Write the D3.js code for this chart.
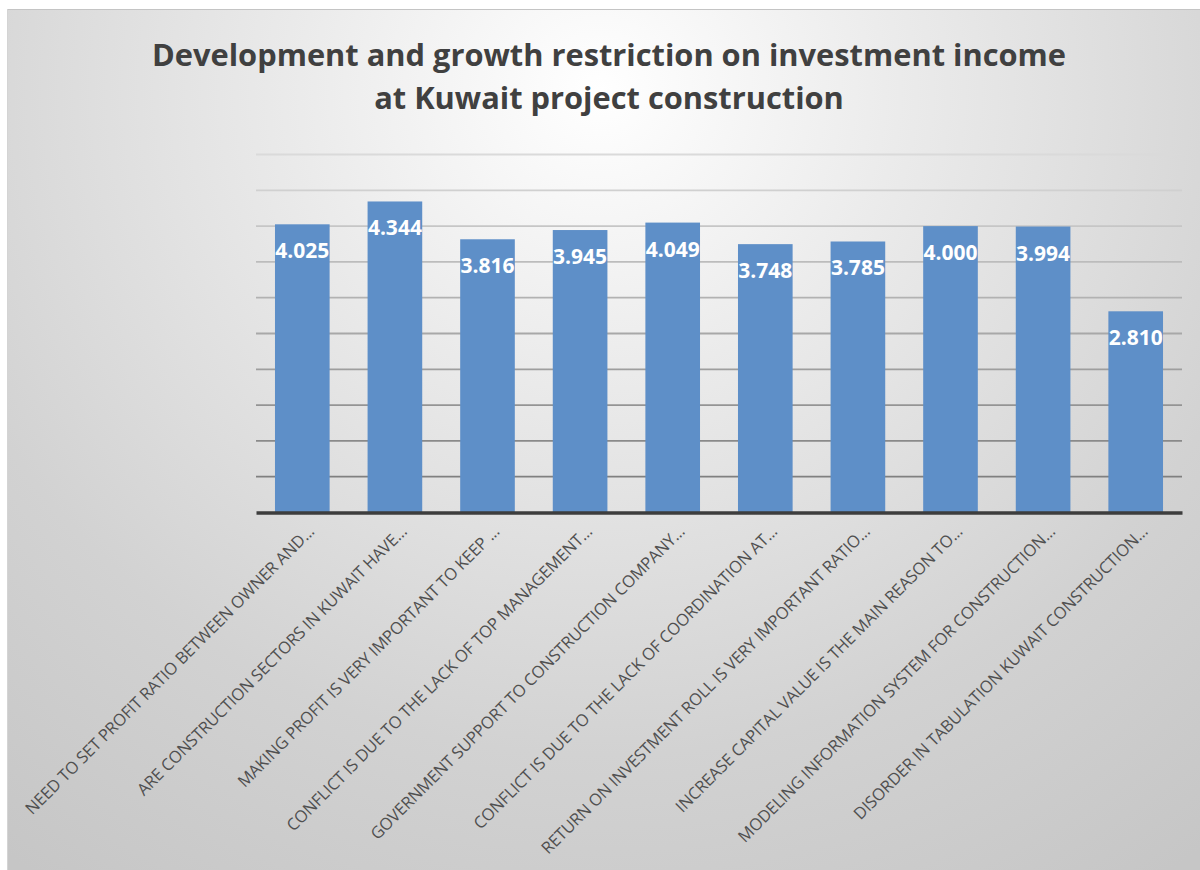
<!DOCTYPE html>
<html>
<head>
<meta charset="utf-8">
<script src="https://cdnjs.cloudflare.com/ajax/libs/d3/7.8.5/d3.min.js"></script>
<style>
  html, body { margin: 0; padding: 0; background: #ffffff; }
  svg { display: block; }
</style>
</head>
<body>
<svg id="chart" width="1200" height="870"></svg>
<script>
// Survey items (category axis) and their mean scores
const categories = [
  "NEED TO SET PROFIT RATIO BETWEEN OWNER AND...",
  "ARE CONSTRUCTION SECTORS IN KUWAIT HAVE...",
  "MAKING PROFIT IS VERY IMPORTANT TO KEEP ...",
  "CONFLICT IS DUE TO THE LACK OF TOP MANAGEMENT...",
  "GOVERNMENT SUPPORT TO CONSTRUCTION COMPANY...",
  "CONFLICT IS DUE TO THE LACK OF COORDINATION AT...",
  "RETURN ON INVESTMENT ROLL IS VERY IMPORTANT RATIO...",
  "INCREASE CAPITAL VALUE IS THE MAIN REASON TO...",
  "MODELING INFORMATION SYSTEM FOR CONSTRUCTION...",
  "DISORDER IN TABULATION KUWAIT CONSTRUCTION..."
];
const values = [4.025, 4.344, 3.816, 3.945, 4.049, 3.748, 3.785, 4.000, 3.994, 2.810];
const gridTicks = [0.5, 1, 1.5, 2, 2.5, 3, 3.5, 4, 4.5, 5];
const titleLines = [
  "Development and growth restriction on investment income",
  "at Kuwait project construction"
];

const svg = d3.select("#chart");
const W = 1200, H = 870;

// Background: soft radial fill behind the whole chart area
const defs = svg.append("defs");
const bg = defs.append("radialGradient")
  .attr("id", "bgGrad")
  .attr("gradientUnits", "userSpaceOnUse")
  .attr("cx", 600).attr("cy", 90).attr("r", 1000)
  .attr("gradientTransform", "translate(600,90) scale(1,0.95) translate(-600,-90)");
bg.append("stop").attr("offset", 0).attr("stop-color", "#ffffff");
bg.append("stop").attr("offset", 0.3).attr("stop-color", "#ebebeb");
bg.append("stop").attr("offset", 0.7).attr("stop-color", "#d2d2d2");
bg.append("stop").attr("offset", 1).attr("stop-color", "#c6c6c6");

svg.append("rect").attr("x", 0).attr("y", 0).attr("width", W).attr("height", H).attr("fill", "#ffffff");
svg.append("rect")
  .attr("x", 7).attr("y", 9).attr("width", W - 7).attr("height", H - 9)
  .attr("fill", "url(#bgGrad)");
svg.append("line")
  .attr("x1", 7).attr("x2", W).attr("y1", 9.5).attr("y2", 9.5)
  .attr("stroke", "#c4c4c4").attr("stroke-width", 1);
svg.append("line")
  .attr("x1", 7.5).attr("x2", 7.5).attr("y1", 9).attr("y2", H)
  .attr("stroke", "#d4d4d4").attr("stroke-width", 1);

// Plot area
const plot = { left: 256, right: 1182, top: 154.5, bottom: 512.5 };

const x = d3.scaleBand()
  .domain(categories)
  .range([plot.left, plot.right])
  .paddingInner(0.41)
  .paddingOuter(0.205);

const y = d3.scaleLinear()
  .domain([0, 5])
  .range([plot.bottom, plot.top]);

// Gridlines, fading from light at the top to darker near the baseline
const gridColor = d3.scaleLinear().domain([5, 0.5]).range(["#dadada", "#808080"]);
svg.append("g").attr("class", "grid")
  .selectAll("line").data(gridTicks).join("line")
  .attr("x1", plot.left).attr("x2", plot.right)
  .attr("y1", d => y(d)).attr("y2", d => y(d))
  .attr("stroke", d => gridColor(d))
  .attr("stroke-width", 1.8);

// Bars
svg.append("g").attr("class", "bars")
  .selectAll("rect").data(values).join("rect")
  .attr("x", (d, i) => x(categories[i]))
  .attr("y", d => y(d))
  .attr("width", x.bandwidth())
  .attr("height", d => y(0) - y(d))
  .attr("fill", "#5e8fc8");

// Category axis line and slanted labels
const xAxis = d3.axisBottom(x).tickSize(0).tickPadding(0);
const gx = svg.append("g")
  .attr("class", "x-axis")
  .attr("transform", `translate(0,${plot.bottom})`)
  .call(xAxis);
gx.select(".domain").attr("stroke", "#3d3d3d").attr("stroke-width", 3.5);
gx.selectAll(".tick text")
  .attr("font-family", "'Open Sans', sans-serif")
  .attr("font-size", 16.6)
  .attr("letter-spacing", -0.2)
  .attr("fill", "#505050")
  .attr("text-anchor", "end")
  .attr("dy", 0)
  .attr("y", 0)
  .attr("transform", "translate(13,20) rotate(-45)");

// Value labels inside the bar tops
svg.append("g").attr("class", "values")
  .selectAll("text").data(values).join("text")
  .attr("x", (d, i) => x(categories[i]) + x.bandwidth() / 2)
  .attr("y", d => y(d) + 34)
  .attr("text-anchor", "middle")
  .attr("font-family", "'Open Sans', sans-serif")
  .attr("font-weight", 700)
  .attr("font-size", 21)
  .attr("fill", "#ffffff")
  .text(d => d3.format(".3f")(d));

// Title
svg.append("g").attr("class", "title")
  .selectAll("text").data(titleLines).join("text")
  .attr("x", 609)
  .attr("y", (d, i) => 66 + i * 43)
  .attr("text-anchor", "middle")
  .attr("font-family", "'Open Sans', sans-serif")
  .attr("font-weight", 700)
  .attr("font-size", 30.8)
  .attr("fill", "#404040")
  .text(d => d);
</script>
</body>
</html>
